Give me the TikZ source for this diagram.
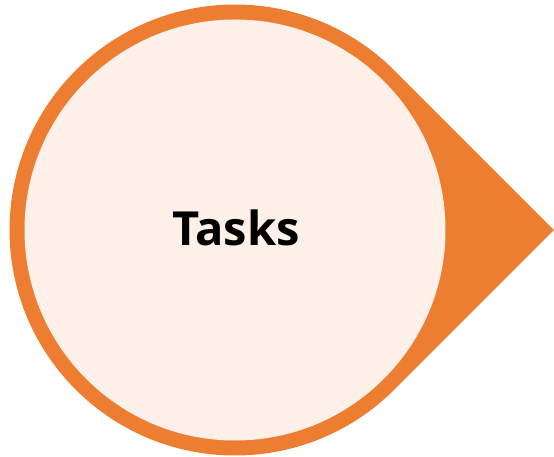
\documentclass[tikz,border=0pt]{standalone}
\usepackage{fontspec}
\setmainfont{Open Sans}
\usetikzlibrary{calc}
\definecolor{orng}{HTML}{ED7D31}
\definecolor{lite}{HTML}{FDF0E9}
\begin{document}
\begin{tikzpicture}[x=1pt,y=-1pt]
\useasboundingbox (0,0) rectangle (554,457);
\coordinate (c) at (235,230);
\coordinate (tip) at (553.9,230);
\fill[orng] ($(c)+(-45:225.5)$) arc[start angle=-45, end angle=-315, radius=225.5] -- (tip) -- cycle;
\fill[lite] (c) circle[radius=210.5];
\node[font=\bfseries\fontsize{47}{56}\selectfont, anchor=base, inner sep=0pt] (t) at (236,245) {Tasks};
\end{tikzpicture}
\end{document}
